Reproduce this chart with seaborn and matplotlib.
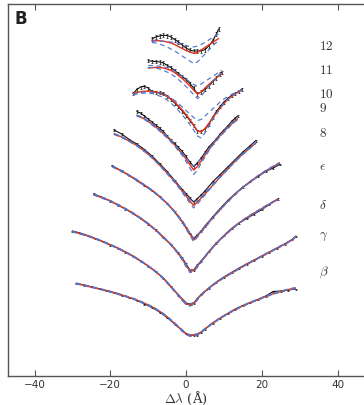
import matplotlib
matplotlib.use("Agg")
import matplotlib.pyplot as plt
import seaborn as sns

# ---------------- data (wavelength offset in Angstrom, offset-stacked normalised flux) -------------
x_12 = [-9, -8, -7, -6, -5, -4, -3, -2, -1, 0, 1, 2, 3, 4, 5, 6, 7, 8, 8.6]
obs_12 = [3.37, 3.39, 3.40, 3.407, 3.405, 3.39, 3.365, 3.34, 3.31, 3.28, 3.258, 3.25, 3.25, 3.25, 3.265, 3.30, 3.35, 3.42, 3.47]
mod_12 = [3.355, 3.355, 3.352, 3.348, 3.34, 3.33, 3.315, 3.295, 3.275, 3.255, 3.24, 3.227, 3.235, 3.26, 3.285, 3.31, 3.335, 3.36, 3.375]
hi_12 = [3.35, 3.35, 3.35, 3.347, 3.344, 3.34, 3.335, 3.325, 3.315, 3.305, 3.295, 3.29, 3.30, 3.315, 3.335, 3.36, 3.385, 3.41, 3.42]
lo_12 = [3.335, 3.33, 3.32, 3.305, 3.29, 3.27, 3.25, 3.225, 3.20, 3.175, 3.15, 3.125, 3.14, 3.18, 3.22, 3.26, 3.30, 3.335, 3.355]

x_11 = [-10, -9, -8, -7, -6, -5, -4, -3, -2, -1, 0, 1, 2, 3, 4, 5, 6, 7, 8, 9, 9.4]
obs_11 = [3.153, 3.148, 3.144, 3.14, 3.13, 3.107, 3.085, 3.055, 3.025, 2.997, 2.965, 2.925, 2.88, 2.82, 2.84, 2.865, 2.90, 2.94, 2.98, 3.02, 3.035]
mod_11 = [3.08, 3.083, 3.086, 3.085, 3.08, 3.07, 3.055, 3.035, 3.005, 2.975, 2.94, 2.90, 2.86, 2.82, 2.84, 2.88, 2.915, 2.95, 2.98, 3.015, 3.025]
hi_11 = [3.105, 3.105, 3.102, 3.098, 3.092, 3.085, 3.07, 3.05, 3.025, 3.00, 2.97, 2.94, 2.915, 2.90, 2.92, 2.945, 2.97, 2.995, 3.02, 3.05, 3.06]
lo_11 = [3.085, 3.085, 3.08, 3.07, 3.055, 3.04, 3.02, 2.995, 2.965, 2.93, 2.895, 2.855, 2.815, 2.775, 2.795, 2.85, 2.90, 2.945, 2.985, 3.02, 3.035]

x_10 = [-14, -13, -12, -11, -10, -9, -8, -7, -6, -5, -4, -3, -2, -1, 0, 1, 2, 3, 4, 5, 6, 7, 8, 9, 10, 11, 12, 13, 14, 14.8]
obs_10 = [2.825, 2.865, 2.89, 2.897, 2.88, 2.845, 2.837, 2.833, 2.825, 2.80, 2.765, 2.73, 2.693, 2.65, 2.605, 2.555, 2.505, 2.45, 2.445, 2.47, 2.515, 2.585, 2.645, 2.695, 2.74, 2.775, 2.805, 2.825, 2.85, 2.87]
mod_10 = [2.825, 2.835, 2.843, 2.848, 2.848, 2.845, 2.84, 2.83, 2.815, 2.795, 2.77, 2.74, 2.70, 2.66, 2.615, 2.565, 2.51, 2.45, 2.44, 2.475, 2.525, 2.58, 2.63, 2.68, 2.725, 2.765, 2.795, 2.82, 2.845, 2.86]
hi_10 = [2.82, 2.83, 2.835, 2.84, 2.84, 2.837, 2.832, 2.825, 2.815, 2.80, 2.78, 2.755, 2.725, 2.69, 2.655, 2.62, 2.585, 2.555, 2.565, 2.60, 2.635, 2.67, 2.705, 2.74, 2.77, 2.795, 2.815, 2.835, 2.85, 2.86]
lo_10 = [2.81, 2.82, 2.825, 2.83, 2.83, 2.825, 2.815, 2.80, 2.785, 2.76, 2.73, 2.695, 2.655, 2.61, 2.565, 2.515, 2.46, 2.40, 2.38, 2.43, 2.495, 2.56, 2.62, 2.675, 2.725, 2.765, 2.80, 2.825, 2.845, 2.86]

x_9 = [-13, -12, -11, -10, -9, -8, -7, -6, -5, -4, -3, -2, -1, 0, 1, 2, 3, 4, 5, 6, 7, 8, 9, 10, 11, 12, 13, 13.6]
obs_9 = [2.645, 2.63, 2.60, 2.57, 2.54, 2.51, 2.48, 2.445, 2.40, 2.36, 2.325, 2.285, 2.245, 2.195, 2.14, 2.095, 2.13, 2.18, 2.235, 2.29, 2.33, 2.37, 2.42, 2.46, 2.50, 2.545, 2.58, 2.60]
mod_9 = [2.605, 2.59, 2.57, 2.545, 2.52, 2.49, 2.46, 2.425, 2.39, 2.35, 2.31, 2.265, 2.22, 2.17, 2.115, 2.06, 2.095, 2.15, 2.21, 2.265, 2.315, 2.36, 2.405, 2.445, 2.485, 2.52, 2.555, 2.57]
hi_9 = [2.61, 2.595, 2.575, 2.55, 2.525, 2.495, 2.465, 2.43, 2.395, 2.355, 2.315, 2.27, 2.225, 2.185, 2.14, 2.10, 2.13, 2.175, 2.22, 2.27, 2.32, 2.365, 2.41, 2.45, 2.49, 2.525, 2.56, 2.575]
lo_9 = [2.60, 2.585, 2.565, 2.54, 2.51, 2.48, 2.45, 2.415, 2.38, 2.34, 2.30, 2.25, 2.205, 2.145, 2.08, 2.015, 2.06, 2.125, 2.19, 2.25, 2.305, 2.35, 2.395, 2.435, 2.475, 2.51, 2.545, 2.56]

x_8 = [-19, -17, -15, -13, -11, -9, -7, -5, -3, -1, 0, 1, 2, 3, 4, 5, 7, 9, 11, 13, 15, 17, 18.4]
obs_8 = [2.46, 2.42, 2.365, 2.32, 2.265, 2.20, 2.125, 2.045, 1.955, 1.865, 1.825, 1.78, 1.74, 1.775, 1.81, 1.85, 1.94, 2.015, 2.09, 2.165, 2.24, 2.305, 2.355]
mod_8 = [2.42, 2.39, 2.35, 2.305, 2.25, 2.185, 2.11, 2.03, 1.945, 1.85, 1.80, 1.75, 1.705, 1.74, 1.78, 1.82, 1.905, 1.99, 2.07, 2.15, 2.22, 2.285, 2.33]
hi_8 = [2.425, 2.395, 2.355, 2.31, 2.255, 2.19, 2.115, 2.035, 1.95, 1.86, 1.815, 1.77, 1.73, 1.76, 1.795, 1.83, 1.91, 1.995, 2.075, 2.155, 2.225, 2.29, 2.335]
lo_8 = [2.415, 2.385, 2.345, 2.30, 2.245, 2.18, 2.105, 2.02, 1.935, 1.835, 1.78, 1.73, 1.68, 1.72, 1.765, 1.81, 1.90, 1.985, 2.065, 2.145, 2.215, 2.28, 2.325]

x_eps = [-19.5, -17, -15, -13, -11, -9, -7, -5, -3, -1, 0, 1, 2, 3, 4, 5, 7, 9, 11, 13, 15, 17, 19, 21, 23, 24.7]
obs_eps = [2.103, 2.05, 2.005, 1.955, 1.905, 1.855, 1.795, 1.725, 1.64, 1.54, 1.485, 1.425, 1.375, 1.41, 1.45, 1.50, 1.59, 1.675, 1.755, 1.825, 1.89, 1.945, 1.995, 2.045, 2.08, 2.115]
mod_eps = [2.095, 2.05, 2.007, 1.96, 1.91, 1.857, 1.795, 1.725, 1.645, 1.545, 1.485, 1.42, 1.36, 1.40, 1.445, 1.49, 1.58, 1.665, 1.745, 1.82, 1.885, 1.945, 2.0, 2.05, 2.095, 2.13]
hi_eps = [2.10, 2.055, 2.01, 1.965, 1.915, 1.862, 1.80, 1.73, 1.65, 1.555, 1.495, 1.435, 1.375, 1.41, 1.455, 1.50, 1.585, 1.67, 1.75, 1.825, 1.89, 1.95, 2.005, 2.055, 2.10, 2.135]
lo_eps = [2.09, 2.045, 2.0, 1.955, 1.905, 1.85, 1.79, 1.72, 1.64, 1.535, 1.47, 1.405, 1.345, 1.39, 1.435, 1.48, 1.575, 1.66, 1.74, 1.815, 1.88, 1.94, 1.995, 2.045, 2.09, 2.125]

x_del = [-24.4, -22, -20, -18, -16, -14, -12, -10, -8, -6, -4, -2, -1, 0, 1, 2, 3, 4, 6, 8, 10, 12, 14, 16, 18, 20, 22, 24.2]
obs_del = [1.82, 1.785, 1.75, 1.71, 1.67, 1.625, 1.575, 1.52, 1.46, 1.385, 1.315, 1.23, 1.18, 1.12, 1.06, 1.06, 1.11, 1.15, 1.245, 1.33, 1.405, 1.475, 1.53, 1.575, 1.62, 1.665, 1.715, 1.77]
mod_del = [1.815, 1.78, 1.75, 1.712, 1.672, 1.628, 1.578, 1.522, 1.46, 1.39, 1.315, 1.225, 1.17, 1.105, 1.05, 1.055, 1.10, 1.145, 1.24, 1.325, 1.40, 1.468, 1.53, 1.583, 1.63, 1.675, 1.72, 1.765]
hi_del = [1.82, 1.785, 1.755, 1.717, 1.677, 1.633, 1.583, 1.527, 1.465, 1.395, 1.32, 1.23, 1.175, 1.115, 1.06, 1.065, 1.107, 1.15, 1.245, 1.33, 1.405, 1.473, 1.535, 1.588, 1.635, 1.68, 1.725, 1.77]
lo_del = [1.81, 1.775, 1.745, 1.707, 1.667, 1.623, 1.573, 1.517, 1.455, 1.385, 1.308, 1.215, 1.158, 1.092, 1.035, 1.04, 1.088, 1.135, 1.235, 1.32, 1.395, 1.463, 1.525, 1.578, 1.625, 1.67, 1.715, 1.76]

x_gam = [-30, -28, -26, -24, -22, -20, -18, -16, -14, -12, -10, -8, -6, -4, -2, -1, 0, 1, 2, 3, 4, 6, 8, 10, 12, 14, 16, 18, 20, 22, 24, 26, 28, 29]
obs_gam = [1.45, 1.43, 1.405, 1.375, 1.345, 1.31, 1.28, 1.24, 1.20, 1.15, 1.10, 1.045, 0.98, 0.895, 0.81, 0.77, 0.73, 0.72, 0.73, 0.775, 0.815, 0.88, 0.94, 0.99, 1.035, 1.08, 1.12, 1.16, 1.20, 1.24, 1.28, 1.32, 1.365, 1.40]
mod_gam = [1.445, 1.425, 1.402, 1.375, 1.345, 1.313, 1.278, 1.24, 1.198, 1.152, 1.10, 1.043, 0.977, 0.893, 0.807, 0.765, 0.725, 0.71, 0.725, 0.77, 0.812, 0.877, 0.935, 0.985, 1.03, 1.075, 1.118, 1.158, 1.198, 1.238, 1.278, 1.318, 1.36, 1.395]
hi_gam = [1.45, 1.43, 1.407, 1.38, 1.35, 1.318, 1.283, 1.245, 1.203, 1.157, 1.105, 1.048, 0.983, 0.90, 0.815, 0.775, 0.735, 0.72, 0.735, 0.778, 0.818, 0.882, 0.94, 0.99, 1.035, 1.08, 1.123, 1.163, 1.203, 1.243, 1.283, 1.323, 1.365, 1.40]
lo_gam = [1.44, 1.42, 1.397, 1.37, 1.34, 1.308, 1.273, 1.235, 1.193, 1.147, 1.095, 1.037, 0.97, 0.885, 0.797, 0.753, 0.713, 0.698, 0.713, 0.76, 0.804, 0.872, 0.93, 0.98, 1.025, 1.07, 1.113, 1.153, 1.193, 1.233, 1.273, 1.313, 1.355, 1.39]

x_bet = [-29, -27, -25, -23, -21, -19, -17, -15, -13, -11, -9, -7, -5, -3, -1, 0, 1, 2, 3, 4, 5, 7, 9, 11, 13, 15, 17, 19, 21, 23, 25, 27, 28.9]
obs_bet = [0.927, 0.91, 0.892, 0.873, 0.855, 0.835, 0.81, 0.785, 0.76, 0.72, 0.685, 0.64, 0.585, 0.52, 0.455, 0.425, 0.41, 0.41, 0.41, 0.44, 0.47, 0.53, 0.58, 0.625, 0.67, 0.705, 0.735, 0.765, 0.80, 0.845, 0.85, 0.86, 0.87]
mod_bet = [0.925, 0.908, 0.89, 0.872, 0.853, 0.832, 0.81, 0.786, 0.759, 0.728, 0.692, 0.648, 0.592, 0.525, 0.455, 0.42, 0.405, 0.41, 0.415, 0.44, 0.47, 0.528, 0.578, 0.623, 0.665, 0.702, 0.735, 0.765, 0.795, 0.822, 0.845, 0.865, 0.88]
hi_bet = [0.93, 0.913, 0.895, 0.877, 0.858, 0.837, 0.815, 0.791, 0.764, 0.733, 0.697, 0.653, 0.598, 0.532, 0.463, 0.428, 0.413, 0.418, 0.422, 0.446, 0.475, 0.533, 0.583, 0.628, 0.67, 0.707, 0.74, 0.77, 0.80, 0.827, 0.85, 0.87, 0.885]
lo_bet = [0.92, 0.903, 0.885, 0.867, 0.848, 0.827, 0.805, 0.781, 0.754, 0.723, 0.687, 0.643, 0.586, 0.518, 0.447, 0.412, 0.397, 0.402, 0.408, 0.434, 0.465, 0.523, 0.573, 0.618, 0.66, 0.697, 0.73, 0.76, 0.79, 0.817, 0.84, 0.86, 0.875]

line_labels = ["$12$", "$11$", "$10$", "$9$", "$8$", r"$\epsilon$", r"$\delta$", r"$\gamma$", r"$\beta$"]
label_y = [3.303, 3.06, 2.825, 2.68, 2.44, 2.10, 1.72, 1.41, 1.05]
obs_err = [0.02, 0.016, 0.015, 0.012, 0.01, 0.007, 0.006, 0.005, 0.005]
xticks = [-40, -20, 0, 20, 40]

profiles = [
    (x_12, obs_12, mod_12, hi_12, lo_12),
    (x_11, obs_11, mod_11, hi_11, lo_11),
    (x_10, obs_10, mod_10, hi_10, lo_10),
    (x_9, obs_9, mod_9, hi_9, lo_9),
    (x_8, obs_8, mod_8, hi_8, lo_8),
    (x_eps, obs_eps, mod_eps, hi_eps, lo_eps),
    (x_del, obs_del, mod_del, hi_del, lo_del),
    (x_gam, obs_gam, mod_gam, hi_gam, lo_gam),
    (x_bet, obs_bet, mod_bet, hi_bet, lo_bet),
]

# ---------------- style ----------------
sns.set_theme(style="ticks")
plt.rcParams["font.family"] = ["DejaVu Sans"]
plt.rcParams["mathtext.fontset"] = "cm"

RED = "#e2381f"
BLUE = "#5275cf"
FRAME = "#555555"

fig = plt.figure(figsize=(3.64, 4.06), dpi=100)
ax = fig.add_axes([8 / 364, 1 - 377 / 406, 358 / 364, 372 / 406])

for (xs, obs, mod, hi, lo), err in zip(profiles, obs_err):
    ax.errorbar(xs, obs, yerr=err, color="#111111", lw=0.8, elinewidth=0.5,
                capsize=1.0, capthick=0.5, zorder=2)
    sns.lineplot(x=xs, y=mod, ax=ax, color=RED, lw=1.05, sort=False,
                 estimator=None, legend=False, zorder=3)
    sns.lineplot(x=xs, y=hi, ax=ax, color=BLUE, lw=0.85, sort=False,
                 estimator=None, legend=False, zorder=4, linestyle=(0, (4, 3)))
    sns.lineplot(x=xs, y=lo, ax=ax, color=BLUE, lw=0.85, sort=False,
                 estimator=None, legend=False, zorder=4, linestyle=(0, (4, 3)))

for lab, ly in zip(line_labels, label_y):
    ax.text(35.1, ly, lab, fontsize=9.5, ha="left", va="center", color="#333333")

ax.set_xlim(-47, 47.5)
ax.set_ylim(0, 3.72)
ax.set_yticks([])
ax.set_xticks(xticks)
ax.set_xticklabels(["\u2212" + str(abs(t)) if t < 0 else str(t) for t in xticks])
ax.tick_params(axis="x", direction="in", top=True, bottom=True, length=4,
               width=0.8, color=FRAME, labelsize=7.5, labelcolor="#333333", pad=2.5)
for sp in ax.spines.values():
    sp.set_visible(True)
    sp.set_color(FRAME)
    sp.set_linewidth(1.0)
ax.set_ylabel("")
ax.set_xlabel(r"$\Delta\lambda$ (Å)", fontsize=9.5, family="DejaVu Serif",
              color="#333333")
ax.xaxis.set_label_coords(0.4975, -0.058)
ax.xaxis.label.set_va("center")

fig.text(15 / 364, 1 - 10 / 406, "B", fontsize=12, fontweight="bold",
         ha="left", va="top", color="#222222")

fig.savefig("out.png", dpi=100)
